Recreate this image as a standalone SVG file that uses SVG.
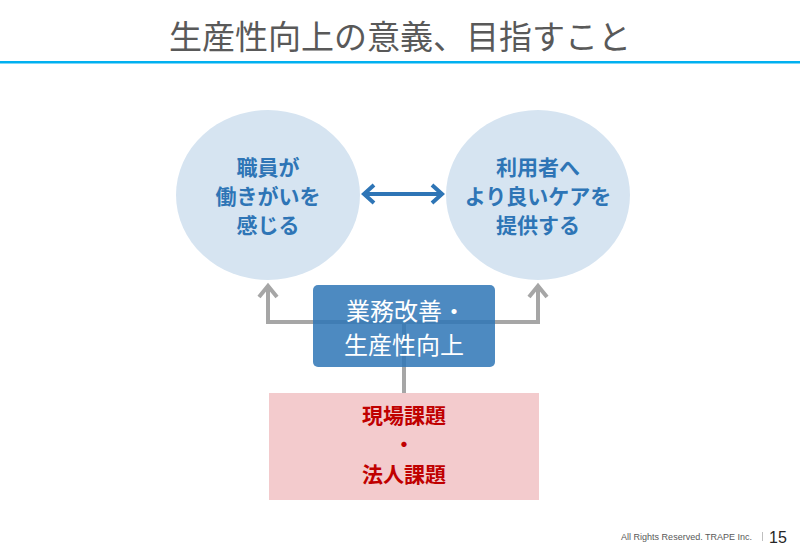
<svg xmlns="http://www.w3.org/2000/svg" width="800" height="554" viewBox="0 0 800 554">
<defs>
<style>
.jp{font-family:"Noto Sans CJK JP","Noto Sans",sans-serif}
.circ{fill:#d6e4f1}
.ct{font-size:21px;font-weight:bold;fill:#2e75b6;text-anchor:middle}
.gray{stroke:#a6a6a6;stroke-width:4;fill:none}
.bt{font-size:24px;fill:#fff;text-anchor:middle}
.rt{font-size:21px;font-weight:bold;fill:#c00000;text-anchor:middle}
</style>
</defs>
<rect width="800" height="554" fill="#fff"/>
<text x="400" y="49" class="jp" font-size="33" fill="#595959" text-anchor="middle">生産性向上の意義、目指すこと</text>
<rect x="0" y="61" width="800" height="2.5" fill="#00b0f0"/>

<g id="connectors">
<polyline class="gray" points="268,286 268,322 538,322 538,286"/>
<polyline class="gray" points="259,297 268,286 277,297"/>
<polyline class="gray" points="529,297 538,286 547,297"/>
<line class="gray" x1="404" y1="322" x2="404" y2="394"/>
<line x1="366" y1="194" x2="440" y2="194" stroke="#2e75b6" stroke-width="4"/>
<polyline points="374,185 364,194 374,203" fill="none" stroke="#2e75b6" stroke-width="4"/>
<polyline points="432,185 442,194 432,203" fill="none" stroke="#2e75b6" stroke-width="4"/>
</g>

<g id="staff">
<ellipse class="circ" cx="268" cy="195" rx="92" ry="85"/>
<text class="jp ct" x="268" y="174.5">職員が</text>
<text class="jp ct" x="268" y="203.5">働きがいを</text>
<text class="jp ct" x="268" y="232.5">感じる</text>
</g>
<g id="users">
<ellipse class="circ" cx="538" cy="195" rx="92" ry="85"/>
<text class="jp ct" x="538" y="174.5">利用者へ</text>
<text class="jp ct" x="538" y="203.5">より良いケアを</text>
<text class="jp ct" x="538" y="232.5">提供する</text>
</g>
<g id="improve">
<rect x="313" y="285" width="182" height="82" rx="5" fill="#2e75b6" fill-opacity="0.85"/>
<text class="jp bt" x="406" y="320">業務改善・</text>
<text class="jp bt" x="404" y="354">生産性向上</text>
</g>
<g id="issues">
<rect x="269" y="393" width="270" height="107" fill="#f3cbcd"/>
<text class="jp rt" x="404" y="423">現場課題</text>
<text class="jp rt" x="404" y="452">・</text>
<text class="jp rt" x="404" y="482">法人課題</text>
</g>
<text x="752" y="540" font-family="Liberation Sans, sans-serif" font-size="9" fill="#595959" text-anchor="end">All Rights Reserved. TRAPE Inc.</text>
<rect x="762" y="532" width="1" height="9" fill="#bfbfbf"/>
<text x="778" y="543" font-family="Liberation Sans, sans-serif" font-size="16" fill="#262626" text-anchor="middle">15</text>
</svg>
